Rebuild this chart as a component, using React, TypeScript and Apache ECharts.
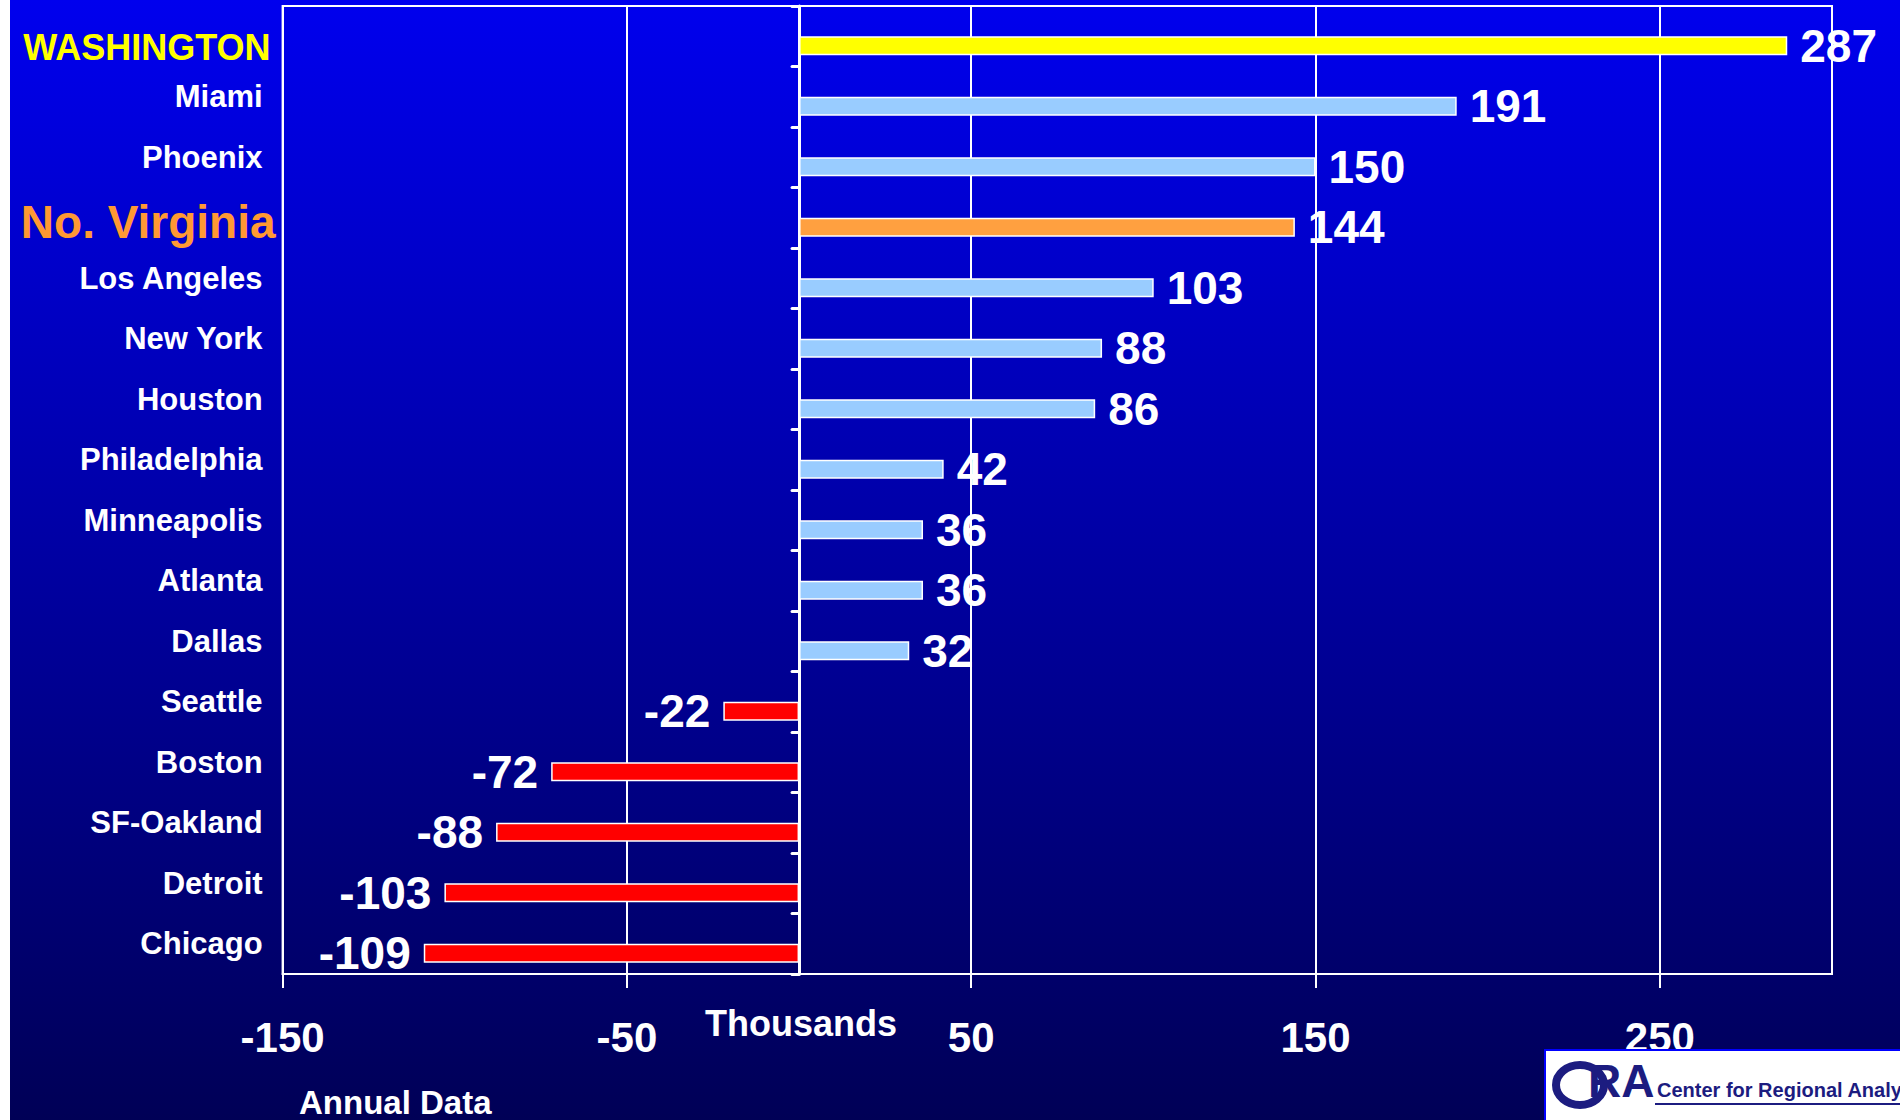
import React, { useEffect, useRef } from 'react';
import * as echarts from 'echarts';

const categories = [
  'WASHINGTON', 'Miami', 'Phoenix', 'No. Virginia', 'Los Angeles', 'New York', 'Houston',
  'Philadelphia', 'Minneapolis', 'Atlanta', 'Dallas', 'Seattle', 'Boston', 'SF-Oakland',
  'Detroit', 'Chicago',
];
const values = [287, 191, 150, 144, 103, 88, 86, 42, 36, 36, 32, -22, -72, -88, -103, -109];
const barColors = [
  '#FFFF00', '#99CCFF', '#99CCFF', '#FFA040', '#99CCFF', '#99CCFF', '#99CCFF',
  '#99CCFF', '#99CCFF', '#99CCFF', '#99CCFF', '#FF0000', '#FF0000', '#FF0000',
  '#FF0000', '#FF0000',
];
const xTickValues = [-150, -50, 50, 150, 250];
const axisName = 'Thousands';
const footNote = 'Annual Data';
const logoName = 'Center for Regional Analysis';

const FONT = "'Liberation Sans', Arial, sans-serif";

export default function App() {
  const ref = useRef<HTMLDivElement>(null);
  useEffect(() => {
    if (!ref.current) return;
    const chart = echarts.init(ref.current, null, { renderer: 'svg' });
    const option: any = {
      animation: false,
      backgroundColor: 'transparent',
      grid: {
        left: 272.6,
        right: 68,
        top: 6,
        bottom: 146,
        containLabel: false,
        outerBoundsMode: 'none',
        show: true,
        borderColor: '#ffffff',
        borderWidth: 2,
        backgroundColor: 'transparent',
      },
      xAxis: {
        type: 'value',
        min: -150,
        max: 300,
        interval: 100,
        position: 'bottom',
        axisLine: { show: true, onZero: false, lineStyle: { color: '#ffffff', width: 2 } },
        axisTick: {
          show: true,
          length: 14,
          customValues: xTickValues,
          lineStyle: { color: '#ffffff', width: 2 },
        },
        axisLabel: {
          customValues: xTickValues,
          margin: 42,
          color: '#ffffff',
          fontSize: 42,
          fontWeight: 'bold',
          fontFamily: FONT,
        },
        splitLine: { show: true, lineStyle: { color: '#ffffff', width: 2 } },
      },
      yAxis: {
        type: 'category',
        data: categories,
        inverse: true,
        axisLine: { show: true, onZero: true, lineStyle: { color: '#ffffff', width: 3 } },
        axisTick: { show: true, length: 7, lineStyle: { color: '#ffffff', width: 3, cap: 'round' } },
        splitLine: { show: false },
        axisLabel: {
          interval: 0,
          margin: 20,
          color: '#ffffff',
          fontSize: 31,
          fontWeight: 'bold',
          fontFamily: FONT,
          formatter: (v: string) =>
            v === 'WASHINGTON' ? `{wash|${v}}` : v === 'No. Virginia' ? `{nova|${v}}` : `{norm|${v}}`,
          rich: {
            norm: { color: '#ffffff', fontSize: 31, fontWeight: 'bold', fontFamily: FONT },
            wash: {
              color: '#FFFF00', fontSize: 36, fontWeight: 'bold', fontFamily: FONT,
              padding: [22, -8, 0, 0],
            },
            nova: {
              color: '#FF9933', fontSize: 46, fontWeight: 'bold', fontFamily: FONT,
              padding: [8, -13, 0, 0],
            },
          },
        },
      },
      series: [
        {
          type: 'bar',
          barWidth: 19,
          barGap: '0%',
          data: categories.map(() => null),
          silent: true,
        },
        {
          type: 'bar',
          barWidth: 19,
          barGap: '0%',
          itemStyle: { borderColor: '#ffffff', borderWidth: 1.5 },
          label: {
            show: true,
            color: '#ffffff',
            fontSize: 46,
            fontWeight: 'bold',
            fontFamily: FONT,
            distance: 13,
          },
          data: values.map((v, i) => ({
            value: v,
            itemStyle: { color: barColors[i] },
            label: { position: v < 0 ? 'left' : 'right' },
          })),
        },
      ],
      graphic: [
        {
          type: 'text',
          z: 100,
          style: {
            text: axisName, x: 791, y: 1023, align: 'center', verticalAlign: 'middle',
            fill: '#ffffff', fontSize: 36, fontWeight: 'bold', fontFamily: FONT,
          },
        },
        {
          type: 'text',
          z: 100,
          style: {
            text: footNote, x: 289, y: 1086, align: 'left', verticalAlign: 'top',
            fill: '#ffffff', fontSize: 33, fontWeight: 'bold', fontFamily: FONT,
          },
        },
        {
          type: 'rect',
          z: 100,
          shape: { x: 1535, y: 1050, width: 370, height: 80 },
          style: { fill: '#ffffff', stroke: '#0000FF', lineWidth: 2 },
        },
        {
          type: 'ellipse',
          z: 101,
          shape: { cx: 1570, cy: 1085, rx: 24, ry: 20 },
          style: { fill: 'none', stroke: '#1C1C80', lineWidth: 8 },
        },
        {
          type: 'text',
          z: 102,
          style: {
            text: 'RA', x: 1578, y: 1104, align: 'left', verticalAlign: 'bottom',
            fill: '#1C1C80', fontSize: 46, fontWeight: 'bold', fontFamily: FONT,
          },
        },
        {
          type: 'text',
          z: 102,
          style: {
            text: logoName, x: 1647, y: 1090, align: 'left', verticalAlign: 'middle',
            fill: '#1C1C80', fontSize: 20, fontWeight: 'bold', fontFamily: FONT,
          },
        },
        {
          type: 'line',
          z: 102,
          shape: { x1: 1645, y1: 1104, x2: 1895, y2: 1104 },
          style: { stroke: '#1C1C80', lineWidth: 2 },
        },
      ],
    };
    chart.setOption(option);
    return () => chart.dispose();
  }, []);
  return (
    <div
      ref={ref}
      style={{
        position: 'fixed',
        left: 10,
        top: 0,
        width: 1890,
        height: 1120,
        background: 'linear-gradient(to bottom, #0000EE 0%, #000056 100%)',
      }}
    />
  );
}
